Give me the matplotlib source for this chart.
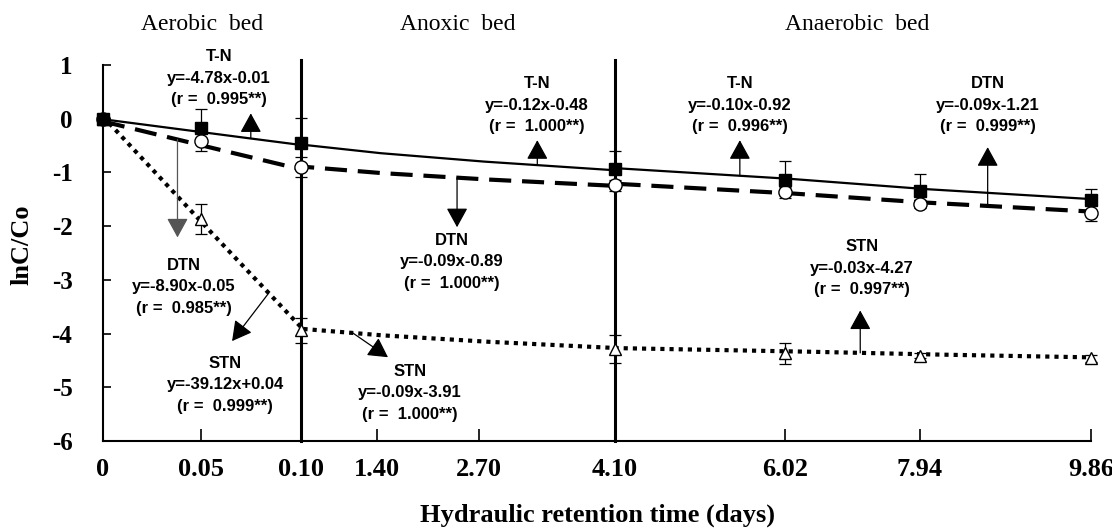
import numpy as np
import matplotlib
matplotlib.use("Agg")
import matplotlib.pyplot as plt

plt.rcParams['axes.unicode_minus'] = False

# ---------------- data ----------------
hrt_ticks = [0, 0.05, 0.10, 1.40, 2.70, 4.10, 6.02, 7.94, 9.86]
tick_labels = ["0", "0.05", "0.10", "1.40", "2.70", "4.10", "6.02", "7.94", "9.86"]

hrt_meas = [0, 0.05, 0.10, 4.10, 6.02, 7.94, 9.86]
tn_mean = [0, -0.18, -0.46, -0.94, -1.15, -1.35, -1.52]
tn_err = [0, 0.37, 0.48, 0.34, 0.37, 0.32, 0.22]
dtn_mean = [0, -0.42, -0.90, -1.24, -1.37, -1.59, -1.76]
dtn_err = [0, 0.19, 0.19, 0.10, 0.10, 0.08, 0.15]
stn_mean = [0, -1.86, -3.94, -4.29, -4.37, -4.41, -4.46]
stn_err = [0, 0.28, 0.23, 0.26, 0.20, 0.05, 0.06]

# bed segments (start, end) in days; regression x is days since segment start
seg_start = [0.0, 0.10, 4.10]
seg_end = [0.10, 4.10, 9.86]
bed_names = ["Aerobic  bed", "Anoxic  bed", "Anaerobic  bed"]

tn_slope = [-4.78, -0.12, -0.10]
tn_icpt = [-0.01, -0.48, -0.92]
tn_r = [0.995, 1.000, 0.996]
dtn_slope = [-8.90, -0.09, -0.09]
dtn_icpt = [-0.05, -0.89, -1.21]
dtn_r = [0.985, 1.000, 0.999]
stn_slope = [-39.12, -0.09, -0.03]
stn_icpt = [0.04, -3.91, -4.27]
stn_r = [0.999, 1.000, 0.997]

# ---------------- layout ----------------
W, H = 1112, 532
tick_pos = [0, 0.0992, 0.2, 0.2773, 0.3806, 0.5182, 0.6903, 0.8269, 1.0]

fig = plt.figure(figsize=(W / 100, H / 100), dpi=100)
ax = fig.add_axes([103 / W, 1 - 441 / H, (1091 - 103) / W, (441 - 65) / H])


def fwd(x):
    return np.interp(x, hrt_ticks, tick_pos)


def inv(p):
    return np.interp(p, tick_pos, hrt_ticks)


ax.set_xscale('function', functions=(fwd, inv))
ax.set_xlim(0, 9.86)
ax.set_ylim(-6, 1)

serif_b = dict(family='Liberation Serif', weight='bold')
sans_b = dict(family='Liberation Sans', weight='bold')

# regression lines per bed
styles = {
    'tn': dict(color='black', lw=1.6, ls='-'),
    'dtn': dict(color='black', lw=3.0, ls=(0, (5.3, 2.6))),
    'stn': dict(color='black', lw=3.0, ls=(0, (1.0, 1.2))),
}
fits = {'tn': (tn_slope, tn_icpt), 'dtn': (dtn_slope, dtn_icpt), 'stn': (stn_slope, stn_icpt)}
for key, (sl, ic) in fits.items():
    xs_all, ys_all = [], []
    for s0, s1, a, b in zip(seg_start, seg_end, sl, ic):
        xs = np.linspace(s0, s1, 200)
        ys = a * (xs - s0) + b
        xs_all.append(xs)
        ys_all.append(ys)
    ax.plot(np.concatenate(xs_all), np.concatenate(ys_all), zorder=2,
            clip_on=False, **styles[key])

# bed dividers
for xv in seg_end[:-1]:
    ax.plot([xv, xv], [-6, 1.09], color='black', lw=2.2, zorder=3, clip_on=False)

# error bars
z = np.zeros(len(hrt_meas))
ekw = dict(fmt='none', ecolor='black', elinewidth=0.9, capsize=4.5, capthick=0.9,
           zorder=4, clip_on=False)
ax.errorbar(hrt_meas, tn_mean, yerr=[z, tn_err], **ekw)
ax.errorbar(hrt_meas, dtn_mean, yerr=dtn_err, **ekw)
ax.errorbar(hrt_meas, stn_mean, yerr=stn_err, **ekw)

# markers
ax.plot(hrt_meas, stn_mean, ls='none', marker='^', ms=8, mfc='white', mec='black',
        mew=1.0, zorder=5, clip_on=False)
ax.plot(hrt_meas, dtn_mean, ls='none', marker='o', ms=9.5, mfc='white', mec='black',
        mew=1.0, zorder=5, clip_on=False)
ax.plot(hrt_meas, tn_mean, ls='none', marker='s', ms=8.5, mfc='black', mec='black',
        mew=1.0, zorder=6, clip_on=False)

# axes styling
for s in ['top', 'right']:
    ax.spines[s].set_visible(False)
for s in ['left', 'bottom']:
    ax.spines[s].set_linewidth(1.5)
ax.set_xticks(hrt_ticks)
ax.set_xticklabels(tick_labels, fontsize=19, **serif_b)
ax.set_yticks(range(-6, 2))
ax.set_yticklabels([str(v) for v in range(-6, 2)], fontsize=18, **serif_b)
ax.tick_params(axis='x', direction='in', length=9, width=1.2, pad=12)
ax.tick_params(axis='y', direction='in', length=6, width=1.2, pad=22)


def fpx(x, y):
    return x / W, 1 - y / H


fig.text(*fpx(597, 515), "Hydraulic retention time (days)", ha='center', va='center',
         fontsize=19, **serif_b)
fig.text(*fpx(22, 245), "lnC/Co", ha='center', va='center', rotation=90,
         fontsize=19, **serif_b)

bed_px = [(202, 25), (458, 25), (857, 25)]
for name, (px, py) in zip(bed_names, bed_px):
    fig.text(*fpx(px, py), name, ha='center', va='center', fontsize=17,
             family='Liberation Serif')

# annotations: (label, slope, icpt, r, text px, arrow tail x (days), segment idx, head (x days, y), color)
ann = [
    ("T-N", tn_slope[0], tn_icpt[0], tn_r[0], (219, 78), 0.075, 0, (0.075, 0.10), 'black'),
    ("DTN", dtn_slope[0], dtn_icpt[0], dtn_r[0], (184, 287), 0.038, 0, (0.038, -2.21), '#555555'),
    ("STN", stn_slope[0], stn_icpt[0], stn_r[0], (225, 385), 0.084, 0, (0.0656, -4.14), 'black'),
    ("T-N", tn_slope[1], tn_icpt[1], tn_r[1], (537, 105), 3.30, 1, (3.30, -0.40), 'black'),
    ("DTN", dtn_slope[1], dtn_icpt[1], dtn_r[1], (452, 262), 2.42, 1, (2.42, -2.02), 'black'),
    ("STN", stn_slope[1], stn_icpt[1], stn_r[1], (410, 393), 0.99, 1, (1.54, -4.44), 'black'),
    ("T-N", tn_slope[2], tn_icpt[2], tn_r[2], (740, 105), 5.51, 2, (5.51, -0.40), 'black'),
    ("DTN", dtn_slope[2], dtn_icpt[2], dtn_r[2], (988, 105), 8.70, 2, (8.70, -0.53), 'black'),
    ("STN", stn_slope[2], stn_icpt[2], stn_r[2], (862, 268), 7.09, 2, (7.09, -3.57), 'black'),
]
for lab, a, b, r, (tx, ty), ax_x, si, head, col in ann:
    sign = '+' if b >= 0 else '-'
    txt = f"{lab}\ny={a:.2f}x{sign}{abs(b):.2f}\n(r =  {r:.3f}**)"
    fig.text(*fpx(tx, ty), txt, ha='center', va='center', fontsize=12,
             linespacing=1.55, **sans_b)
    tail_y = a * (ax_x - seg_start[si]) + b
    ax.annotate("", xy=head, xytext=(ax_x, tail_y), xycoords='data',
                arrowprops=dict(arrowstyle="-|>,head_length=1.0,head_width=0.55",
                                color=col, lw=0.9, shrinkA=0, shrinkB=0,
                                mutation_scale=12),
                zorder=7, annotation_clip=False)

fig.savefig("out.png", dpi=100)
